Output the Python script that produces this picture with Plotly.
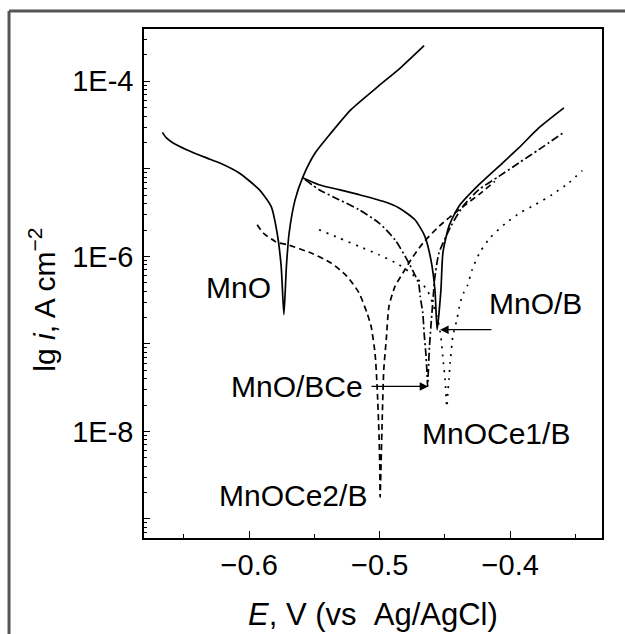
import numpy as np
import plotly.graph_objects as go

# ---------------- data (E in V vs Ag/AgCl, lg i in log10(A cm^-2)) ----------------
mno_E = [-0.6665, -0.6634, -0.6583, -0.6480, -0.6327, -0.6225, -0.6077, -0.5923, -0.5832,
         -0.5786, -0.5755, -0.5734, -0.5715, -0.5694, -0.5648, -0.5587, -0.5495, -0.5373,
         -0.5220, -0.5006, -0.4852, -0.4660]
mno_lg = [-4.583, -4.647, -4.704, -4.781, -4.875, -4.933, -5.047, -5.238, -5.429,
          -5.733, -6.114, -6.666, -6.114, -5.733, -5.352, -5.086, -4.819, -4.589,
          -4.323, -4.050, -3.860, -3.592]

mnob_E = [-0.5587, -0.5465, -0.5312, -0.5158, -0.4975, -0.4852, -0.4730, -0.4654, -0.4608,
          -0.4577, -0.4560, -0.4531, -0.4516, -0.4470, -0.4394, -0.4240, -0.4087, -0.3935,
          -0.3781, -0.3589]
mnob_lg = [-5.104, -5.181, -5.238, -5.295, -5.371, -5.447, -5.581, -5.771, -6.038,
           -6.381, -6.838, -6.381, -5.961, -5.657, -5.429, -5.181, -4.971, -4.761,
           -4.533, -4.304]

mnobce_E = [-0.5572, -0.5465, -0.5312, -0.5158, -0.5005, -0.4883, -0.4791, -0.4703, -0.4690,
            -0.4670, -0.4660, -0.4647, -0.4639, -0.4633, -0.4627, -0.4619, -0.4608, -0.4600,
            -0.4588, -0.4580, -0.4546, -0.4455, -0.4363, -0.4241, -0.4087, -0.3935, -0.3781,
            -0.3589]
mnobce_lg = [-5.123, -5.238, -5.352, -5.467, -5.619, -5.810, -6.038, -6.304, -6.457,
             -6.647, -6.875, -7.104, -7.295, -7.486, -7.295, -7.029, -6.800, -6.647,
             -6.419, -6.266, -5.961, -5.657, -5.429, -5.238, -5.086, -4.933, -4.780,
             -4.583]

mnoce2_E = [-0.5939, -0.5893, -0.5801, -0.5770, -0.5710, -0.5526, -0.5373, -0.5250, -0.5158,
            -0.5097, -0.5066, -0.5036, -0.5020, -0.5005, -0.4999, -0.4997, -0.4981, -0.4969,
            -0.4950, -0.4929, -0.4883, -0.4822, -0.4761, -0.4669, -0.4546, -0.4393, -0.4241,
            -0.4118]
mnoce2_lg = [-5.638, -5.733, -5.829, -5.847, -5.866, -5.962, -6.076, -6.229, -6.419,
             -6.648, -6.800, -7.105, -7.486, -8.057, -8.438, -8.750, -7.866, -7.295,
             -6.952, -6.571, -6.343, -6.190, -6.038, -5.848, -5.657, -5.467, -5.295,
             -5.143]

mnoce1_E = [-0.5465, -0.5312, -0.5158, -0.5006, -0.4852, -0.4730, -0.4638, -0.4591, -0.4552,
            -0.4532, -0.4512, -0.4499, -0.4486, -0.4476, -0.4470, -0.4460, -0.4447, -0.4440,
            -0.4409, -0.4384, -0.4358, -0.4328, -0.4292, -0.4230, -0.4153, -0.4038, -0.3923,
            -0.3808, -0.3680, -0.3553, -0.3448]
mnoce1_lg = [-5.695, -5.790, -5.886, -5.981, -6.095, -6.229, -6.381, -6.552, -6.746,
             -6.914, -7.219, -7.410, -7.721, -7.515, -7.410, -7.211, -7.009, -6.914,
             -6.723, -6.533, -6.419, -6.335, -6.152, -5.946, -5.786, -5.626, -5.501,
             -5.409, -5.295, -5.161, -5.020]

x_ticks = [-0.6, -0.5, -0.4]
x_minor = [-0.65, -0.55, -0.45, -0.35]
y_ticks = [1e-9, 1e-8, 1e-7, 1e-6, 1e-5, 1e-4]
y_ticktext = ["", "1E-8", "", "1E-6", "", "1E-4"]
y_minor = [k * 10.0 ** p for p in range(-10, -3) for k in range(2, 10)]

# label positions (E, lg i)
labels = [
    ("MnO", -0.6085, -6.36, "center"),
    ("MnO/B", -0.3808, -6.54, "center"),
    ("MnO/BCe", -0.5113, -7.49, "right"),
    ("MnOCe1/B", -0.4110, -8.02, "center"),
    ("MnOCe2/B", -0.5662, -8.73, "center"),
]
# arrows: (tip E, tip lg, tail E, tail lg)
arrows = [
    (-0.4537, -6.838, -0.4133, -6.838),
    (-0.4629, -7.486, -0.5074, -7.486),
]

FONT = "Arial, Liberation Sans, Helvetica, sans-serif"
fig = go.Figure()

def add(E, lg, dash):
    fig.add_trace(go.Scatter(x=E, y=10.0 ** np.array(lg), mode="lines",
                             line=dict(color="black", width=1.7, dash=dash,
                                       shape="spline", smoothing=0.6),
                             showlegend=False, hoverinfo="skip"))

add(mno_E, mno_lg, "solid")
add(mnob_E, mnob_lg, "solid")
add(mnobce_E, mnobce_lg, "8px,3px,2px,3px")
add(mnoce2_E, mnoce2_lg, "6px,4px")
add(mnoce1_E, mnoce1_lg, "2px,6px")

annotations = []
for txt, ex, ly, anc in labels:
    annotations.append(dict(x=ex, y=ly, xref="x", yref="y", text=txt, showarrow=False,
                            xanchor=anc, yanchor="middle",
                            font=dict(family=FONT, size=30, color="black")))
for tx, ty, sx, sy in arrows:
    annotations.append(dict(x=tx, y=ty, ax=sx, ay=sy, xref="x", yref="y", axref="x", ayref="y",
                            text="", showarrow=True, arrowhead=2, arrowsize=1.3,
                            arrowwidth=1.3, arrowcolor="black"))
# axis titles
annotations.append(dict(x=-0.2230, y=0.468, xref="paper", yref="paper", textangle=-90,
                        text="lg <i>i</i>, A cm<sup>\u22122</sup>", showarrow=False,
                        xanchor="center", yanchor="middle",
                        font=dict(family=FONT, size=30, color="black")))
annotations.append(dict(x=0.5, y=-0.1506, xref="paper", yref="paper",
                        text="<i>E</i>, V (vs \u00a0Ag/AgCl)", showarrow=False,
                        xanchor="center", yanchor="middle",
                        font=dict(family=FONT, size=31, color="black")))

frame = dict(color="#555555", width=3)
fig.update_layout(
    width=625, height=634,
    margin=dict(l=144.3, r=23.3, t=29, b=95.7, pad=0),
    paper_bgcolor="white", plot_bgcolor="white",
    annotations=annotations,
    shapes=[
        # outer picture frame: only its left and top edges fall inside the image
        dict(type="line", xref="paper", yref="paper", x0=-0.2947, x1=-0.2947,
             y0=-0.3, y1=1.0353, line=frame),
        dict(type="line", xref="paper", yref="paper", x0=-0.2947, x1=1.2,
             y0=1.0353, y1=1.0353, line=frame),
    ],
    xaxis=dict(range=[-0.6806, -0.3297], tickmode="array", tickvals=x_ticks,
               ticks="inside", ticklen=7, tickwidth=1.3, tickcolor="black",
               showline=True, linecolor="black", linewidth=1.5, mirror=True,
               showgrid=False, zeroline=False,
               tickfont=dict(family=FONT, size=29, color="black"),
               ticklabelstandoff=0,
               minor=dict(tickmode="array", tickvals=x_minor, ticks="inside", ticklen=4,
                          tickwidth=1.2, tickcolor="black", showgrid=False)),
    yaxis=dict(type="log", range=[-9.218, -3.402], tickmode="array", tickvals=y_ticks,
               ticktext=y_ticktext, ticks="inside", ticklen=6, tickwidth=1.3,
               tickcolor="black", showline=True, linecolor="black", linewidth=1.5,
               mirror=True, showgrid=False, zeroline=False,
               tickfont=dict(family=FONT, size=29, color="black"),
               ticklabelstandoff=3,
               minor=dict(tickmode="array", tickvals=y_minor, ticks="inside", ticklen=3.5,
                          tickwidth=1.1, tickcolor="black", showgrid=False)),
)

# remove the default page margin so the 625x634 figure fills the window exactly
fig.write_html("out.html", config={"displayModeBar": False},
               post_script=("document.body.style.margin='0';"
                            "document.body.style.overflow='hidden';"
                            "document.documentElement.style.overflow='hidden';"))
